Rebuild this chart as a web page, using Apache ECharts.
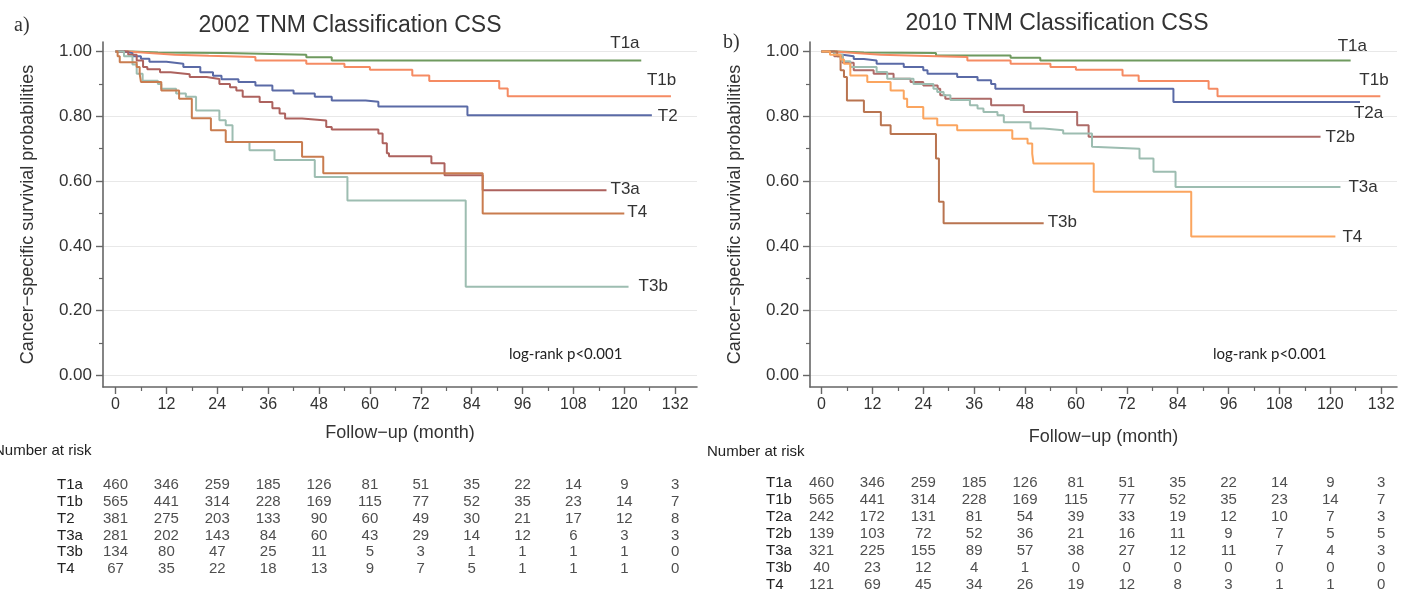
<!DOCTYPE html>
<html><head><meta charset="utf-8">
<script src="https://cdn.jsdelivr.net/npm/echarts@6/dist/echarts.min.js"></script>
<style>html,body{margin:0;padding:0;background:#fff}#c{width:1402px;height:602px}</style>
</head><body><div id="c"></div>
<script>
// ---------- tick labels ----------
const ticksX = [0,12,24,36,48,60,72,84,96,108,120,132];
const minorX = [6,18,30,42,54,66,78,90,102,114,126];
const ticksY = [0,0.2,0.4,0.6,0.8,1.0];
const minorY = [0.1,0.3,0.5,0.7,0.9];

// ---------- 2002 TNM (panel a) ----------
const names2002 = ['T1a','T1b','T2','T3a','T3b','T4'];
const a_T1a = [[0,1],[4,0.997],[10,0.995],[26,0.99],[45,0.982],[51,0.972],[124,0.972]];
const a_T1b = [[0,1],[3,0.995],[8,0.99],[14,0.987],[22,0.983],[33,0.972],[45,0.962],[54,0.952],[60,0.944],[70,0.926],[74,0.909],[90.5,0.886],[92.5,0.862],[131,0.862]];
const a_T2  = [[0,1],[2,0.995],[4,0.985],[6,0.978],[8,0.968],[12,0.962],[16,0.952],[20,0.936],[23,0.925],[25,0.914],[29,0.906],[33,0.895],[37,0.88],[42,0.87],[47,0.86],[51,0.849],[59,0.845],[62,0.83],[83,0.803],[126.5,0.803]];
const a_T3a = [[0,1],[3,0.99],[5,0.972],[6.5,0.952],[7.5,0.945],[10.5,0.936],[13,0.93],[17.5,0.921],[21.5,0.915],[24.5,0.9],[27,0.89],[28.5,0.88],[30,0.86],[34,0.844],[37,0.825],[38.7,0.809],[40,0.793],[44,0.787],[49.7,0.767],[51,0.759],[62,0.747],[63,0.717],[64,0.686],[64.5,0.677],[74.5,0.655],[77.6,0.618],[86.6,0.572],[115.8,0.572]];
const a_T3b = [[0,1],[2,0.985],[4,0.96],[5,0.931],[6.4,0.91],[10,0.9],[10.8,0.885],[14.3,0.87],[16.6,0.86],[19,0.818],[24.5,0.788],[26,0.772],[27.6,0.721],[31.6,0.695],[37.5,0.665],[47,0.613],[54.7,0.54],[82.6,0.274],[121,0.274]];
const a_T4  = [[0,1],[0.5,0.985],[1,0.967],[5,0.952],[5.7,0.931],[6,0.906],[10.8,0.88],[15,0.854],[18,0.794],[22.5,0.757],[26,0.721],[44,0.675],[49,0.624],[86.6,0.5],[120,0.5]];
const risk2002_T1a = [460,346,259,185,126,81,51,35,22,14,9,3];
const risk2002_T1b = [565,441,314,228,169,115,77,52,35,23,14,7];
const risk2002_T2  = [381,275,203,133,90,60,49,30,21,17,12,8];
const risk2002_T3a = [281,202,143,84,60,43,29,14,12,6,3,3];
const risk2002_T3b = [134,80,47,25,11,5,3,1,1,1,1,0];
const risk2002_T4  = [67,35,22,18,13,9,7,5,1,1,1,0];

// ---------- 2010 TNM (panel b) ----------
const names2010 = ['T1a','T1b','T2a','T2b','T3a','T3b','T4'];
const b_T1a = [[0,1],[4,0.997],[10,0.995],[27,0.988],[44.6,0.981],[51.6,0.972],[124.8,0.972]];
const b_T1b = [[0,1],[3,0.995],[8,0.99],[14,0.987],[22.6,0.983],[34.4,0.972],[44.6,0.962],[54,0.952],[60,0.944],[71,0.926],[74.8,0.909],[91.3,0.885],[93.4,0.862],[131.8,0.862]];
const b_T2a = [[0,1],[3,0.99],[5,0.985],[7.6,0.977],[10,0.972],[13,0.962],[19.4,0.952],[24,0.942],[25,0.931],[32,0.921],[36.8,0.911],[40,0.9],[41,0.885],[83,0.844],[127,0.844]];
const b_T2b = [[0,1],[3,0.985],[5,0.965],[7.6,0.942],[12.3,0.931],[17,0.916],[21,0.906],[24,0.895],[27.4,0.885],[28,0.865],[29.2,0.854],[40,0.834],[47.7,0.813],[60.3,0.772],[63,0.737],[117.7,0.737]];
const b_T3a = [[0,1],[3,0.99],[5,0.97],[6.8,0.952],[13,0.937],[15.5,0.916],[21.7,0.9],[26.4,0.885],[27.3,0.875],[28.8,0.865],[30.4,0.85],[35,0.834],[36.8,0.824],[38.2,0.813],[41.5,0.803],[43,0.782],[49.3,0.762],[52.4,0.757],[57,0.747],[63.8,0.706],[64,0.7],[75,0.67],[78.3,0.629],[83.5,0.582],[122.4,0.582]];
const b_T3b = [[0,1],[3.7,0.985],[4.5,0.942],[5.3,0.921],[6,0.849],[10,0.813],[14,0.772],[16.3,0.745],[27,0.67],[27.7,0.536],[28.8,0.47],[52.4,0.47]];
const b_T4  = [[0,1],[2,0.99],[4.5,0.975],[5.3,0.962],[6.8,0.926],[10.8,0.906],[16.3,0.88],[19.4,0.854],[20.2,0.829],[24,0.793],[27.3,0.772],[32,0.757],[45,0.731],[48.6,0.716],[49.7,0.685],[50,0.654],[64.2,0.567],[87.2,0.429],[121.2,0.429]];
const risk2010_T1a = [460,346,259,185,126,81,51,35,22,14,9,3];
const risk2010_T1b = [565,441,314,228,169,115,77,52,35,23,14,7];
const risk2010_T2a = [242,172,131,81,54,39,33,19,12,10,7,3];
const risk2010_T2b = [139,103,72,52,36,21,16,11,9,7,5,5];
const risk2010_T3a = [321,225,155,89,57,38,27,12,11,7,4,3];
const risk2010_T3b = [40,23,12,4,1,0,0,0,0,0,0,0];
const risk2010_T4  = [121,69,45,34,26,19,12,8,3,1,1,0];

// ---------- styles ----------
const FONT = '"Liberation Sans", Arial, sans-serif';
const TXT = '#333';
const AX = '#666';
const colA = {T1a:'#6f9a5f',T1b:'#f58b63',T2:'#5a6aa6',T3a:'#ad625e',T3b:'#9dbdb1',T4:'#c97c4f'};
const colB = {T1a:'#6f9a5f',T1b:'#f58b63',T2a:'#5a6aa6',T2b:'#ad6b68',T3a:'#9dbdb1',T3b:'#b97450',T4:'#fba55f'};
const offA = {T1a:[-31,-17],T1b:[-24,-16],T2:[6,1],T3a:[4,-1],T3b:[10,0],T4:[3,-1]};
const offB = {T1a:[-13,-14],T1b:[-21,-16],T2a:[-6,11],T2b:[5,1],T3a:[8,0],T3b:[4,-1],T4:[7,1]};

const curvesA = {T1a:a_T1a,T1b:a_T1b,T2:a_T2,T3a:a_T3a,T3b:a_T3b,T4:a_T4};
const curvesB = {T1a:b_T1a,T1b:b_T1b,T2a:b_T2a,T2b:b_T2b,T3a:b_T3a,T3b:b_T3b,T4:b_T4};
const riskA = {T1a:risk2002_T1a,T1b:risk2002_T1b,T2:risk2002_T2,T3a:risk2002_T3a,T3b:risk2002_T3b,T4:risk2002_T4};
const riskB = {T1a:risk2010_T1a,T1b:risk2010_T1b,T2a:risk2010_T2a,T2b:risk2010_T2b,T3a:risk2010_T3a,T3b:risk2010_T3b,T4:risk2010_T4};

const PX_PER_MONTH = 4.24;
const panels = [
  {left:103, width:594, x0:115.5, names:names2002, curves:curvesA, col:colA, off:offA, risk:riskA, tTop:476.6, rowH:16.8, rowMargin:46, nameGapX:37, nameGapY:66},
  {left:810, width:587, x0:821.5, names:names2010, curves:curvesB, col:colB, off:offB, risk:riskB, tTop:474.5, rowH:17, rowMargin:44, nameGapX:41, nameGapY:66}
];

const grid=[], xAxis=[], yAxis=[], series=[];
const plotTop = 42, plotH = 345;
const yMin = -(387-375.5)/324, yMax = 1 + (51.5-42)/324;

panels.forEach((p, pi) => {
  const xmin = -(p.x0 - p.left)/PX_PER_MONTH;
  const xmax = xmin + p.width/PX_PER_MONTH;
  const gPlot = grid.length;
  grid.push({left:p.left, top:plotTop, width:p.width, height:plotH});
  const xMain = xAxis.length;
  xAxis.push({type:'value', gridIndex:gPlot, min:xmin, max:xmax, position:'bottom',
    name:'Follow\u2212up (month)', nameLocation:'middle', nameGap:p.nameGapX,
    nameTextStyle:{fontFamily:FONT, fontSize:18, color:TXT},
    axisLine:{show:true, onZero:false, lineStyle:{color:AX, width:1.6}},
    axisTick:{show:true, customValues:ticksX, length:7, lineStyle:{color:AX, width:1.4}},
    axisLabel:{show:true, customValues:ticksX, margin:10, fontFamily:FONT, fontSize:16, color:TXT},
    splitLine:{show:false}});
  xAxis.push({type:'value', gridIndex:gPlot, min:xmin, max:xmax, position:'bottom', offset:0,
    axisLine:{show:false, onZero:false}, axisTick:{show:true, customValues:minorX, length:4, lineStyle:{color:AX, width:1.2}},
    axisLabel:{show:false}, splitLine:{show:false}});
  const yMain = yAxis.length;
  yAxis.push({type:'value', gridIndex:gPlot, min:yMin, max:yMax, position:'left',
    name:'Cancer\u2212specific survivial probabilities', nameLocation:'middle', nameGap:p.nameGapY, nameRotate:90,
    nameTextStyle:{fontFamily:FONT, fontSize:18, color:TXT},
    axisLine:{show:true, onZero:false, lineStyle:{color:AX, width:1.6}},
    axisTick:{show:true, customValues:ticksY, length:7, lineStyle:{color:AX, width:1.4}},
    axisLabel:{show:true, customValues:ticksY, margin:11, fontFamily:FONT, fontSize:17, color:TXT, formatter:v=>v.toFixed(2)},
    splitLine:{show:true, lineStyle:{color:'#e8e8e8', width:1.2}}});
  yAxis.push({type:'value', gridIndex:gPlot, min:yMin, max:yMax, position:'left', offset:0,
    axisLine:{show:false, onZero:false}, axisTick:{show:true, customValues:minorY, length:4, lineStyle:{color:AX, width:1.2}},
    axisLabel:{show:false}, splitLine:{show:false}});
  p.names.forEach(n => {
    series.push({type:'line', name:n, xAxisIndex:xMain, yAxisIndex:yMain, step:'end', showSymbol:false, symbol:'none',
      data:p.curves[n], lineStyle:{color:p.col[n], width:2}, itemStyle:{color:p.col[n]}, silent:true, animation:false,
      endLabel:{show:true, formatter:n, distance:0, offset:p.off[n], fontFamily:FONT, fontSize:17, color:TXT}});
  });
  const gT = grid.length;
  grid.push({left:p.left, top:p.tTop, width:p.width, height:p.rowH*p.names.length});
  const xT = xAxis.length;
  xAxis.push({type:'value', gridIndex:gT, min:xmin, max:xmax, show:false});
  const yT = yAxis.length;
  yAxis.push({type:'category', gridIndex:gT, data:p.names, inverse:true,
    axisLine:{show:false}, axisTick:{show:false}, splitLine:{show:false},
    axisLabel:{show:true, interval:0, align:'left', margin:p.rowMargin, fontFamily:FONT, fontSize:15, color:'#222'}});
  p.names.forEach(n => {
    series.push({type:'scatter', xAxisIndex:xT, yAxisIndex:yT, symbolSize:1, itemStyle:{color:'rgba(0,0,0,0)'}, silent:true, animation:false,
      data:p.risk[n].map((v,i)=>[ticksX[i], n, v]),
      label:{show:true, position:'inside', formatter:q=>String(q.data[2]), fontFamily:FONT, fontSize:15, color:'#222'}});
  });
});

const chart = echarts.init(document.getElementById('c'), null, {renderer:'canvas'});
chart.setOption({
  animation:false,
  backgroundColor:'#fff',
  title:[
    {text:'2002 TNM Classification CSS', left:345, top:9, textAlign:'center', textStyle:{fontFamily:FONT, fontSize:23, fontWeight:'normal', color:TXT}},
    {text:'2010 TNM Classification CSS', left:1052, top:7, textAlign:'center', textStyle:{fontFamily:FONT, fontSize:23, fontWeight:'normal', color:TXT}}
  ],
  graphic:[
    {type:'text', left:14, top:16, style:{text:'a)', font:'20px "Liberation Serif", serif', fill:TXT}},
    {type:'text', left:723, top:33, style:{text:'b)', font:'20px "Liberation Serif", serif', fill:TXT}},
    {type:'text', left:-6, top:443, style:{text:'Number at risk', font:'15px "Liberation Sans", Arial, sans-serif', fill:'#222'}},
    {type:'text', left:707, top:444, style:{text:'Number at risk', font:'15px "Liberation Sans", Arial, sans-serif', fill:'#222'}},
    {type:'text', left:509, top:347, style:{text:'log-rank p<0.001', font:'15px Lato, sans-serif', fill:'#222'}},
    {type:'text', left:1213, top:347, style:{text:'log-rank p<0.001', font:'15px Lato, sans-serif', fill:'#222'}}
  ],
  grid, xAxis, yAxis, series
});
</script>
</body></html>
